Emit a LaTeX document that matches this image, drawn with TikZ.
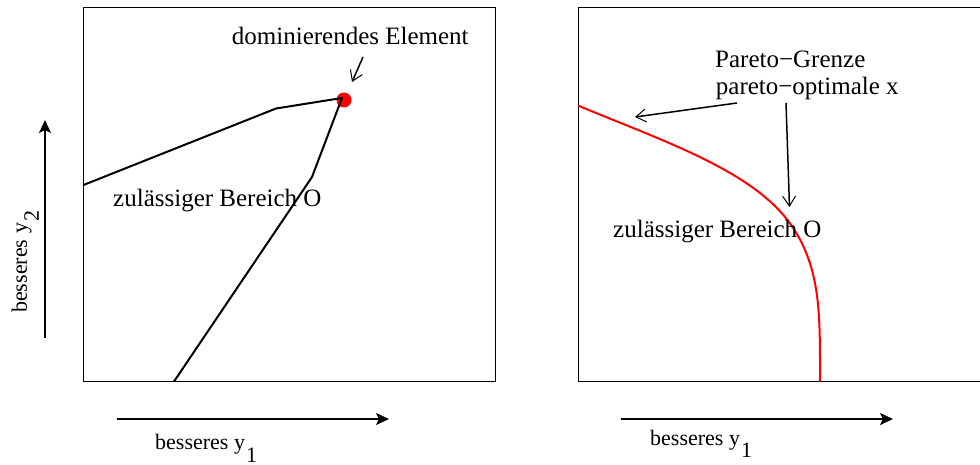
\documentclass[tikz,border=0pt]{standalone}
\usepackage{fontspec}
\setmainfont{Liberation Serif}
\usetikzlibrary{arrows.meta}
\newcommand\boxfont{\fontsize{25}{30}\selectfont}
\newcommand\axisfont{\fontsize{22}{26}\selectfont}
\begin{document}
\begin{tikzpicture}[x=1pt,y=-1pt,
  frame/.style={line width=1pt},
  edgeline/.style={line width=2pt, line join=round},
  axisarrow/.style={line width=2pt, -{Stealth[length=13pt,width=12pt,inset=3pt]}},
  pointer/.style={line width=1.5pt, -{Straight Barb[length=10pt,width=13pt,line width=1pt]}},
  lbl/.style={anchor=base west, inner sep=0pt, font=\boxfont},
  axlbl/.style={anchor=base west, inner sep=0pt, font=\axisfont}]
\useasboundingbox (0,0) rectangle (980,465);
\clip (0,0) rectangle (980,465);
\fill[white] (0,0) rectangle (980,465);
% frames
\draw[frame] (83.5,7.5) rectangle (495.7,381.5);
\draw[frame] (578.7,7.5) rectangle (1000,381.5);
% left region
\node[circle, fill=red, minimum size=15pt, inner sep=0pt] (dom) at (344,100) {};
\coordinate (p1) at (83.5,185);
\coordinate (p2) at (276,108.5);
\coordinate (p3) at (342,98);
\coordinate (p4) at (312,177);
\coordinate (p5) at (174,381.5);
\draw[edgeline] (p1) -- (p2) -- (p3) -- (p4) -- (p5);
\node[lbl] (dlab) at (231.7,45) {dominierendes Element};
\coordinate (ds) at (363,57);
\coordinate (de) at (352,82);
\draw[pointer] (ds) -- (de);
\node[lbl] (zl) at (113,207) {zulässiger Bereich O};
% right region: Pareto front
\coordinate (c0) at (820,381.5);
\draw[red, line width=2pt, line join=round] (c0) -- plot[domain=0.01:1, samples=120] ({820-242*exp((3.75-5.2*(max(0,\x-0.55))^2)*ln(\x))}, {381.5-276*\x});
\node[lbl] (pg) at (715,68) {Pareto−Grenze};
\node[lbl] (po) at (715.7,95) {pareto−optimale x};
\coordinate (a1s) at (737,103);
\coordinate (a1e) at (635,117);
\coordinate (a2s) at (786,103);
\coordinate (a2e) at (789.5,207);
\draw[pointer] (a1s) -- (a1e);
\draw[pointer] (a2s) -- (a2e);
\node[lbl] (zr) at (613,238) {zulässiger Bereich O};
% axes
\coordinate (vy0) at (45,338);
\coordinate (vy1) at (45,120);
\draw[axisarrow] (vy0) -- (vy1);
\coordinate (hl0) at (117,419);
\coordinate (hl1) at (389,419);
\draw[axisarrow] (hl0) -- (hl1);
\coordinate (hr0) at (621,419);
\coordinate (hr1) at (893,419);
\draw[axisarrow] (hr0) -- (hr1);
\node[axlbl] (y1l) at (155,449.5) {besseres y\kern1pt\raisebox{-12.5pt}{1}};
\node[axlbl] (y1r) at (650,445) {besseres y\kern1pt\raisebox{-12pt}{1}};
\node[axlbl, rotate=90] (y2) at (27,313) {besseres y\kern1pt\raisebox{-12pt}{2}};
\end{tikzpicture}
\end{document}
